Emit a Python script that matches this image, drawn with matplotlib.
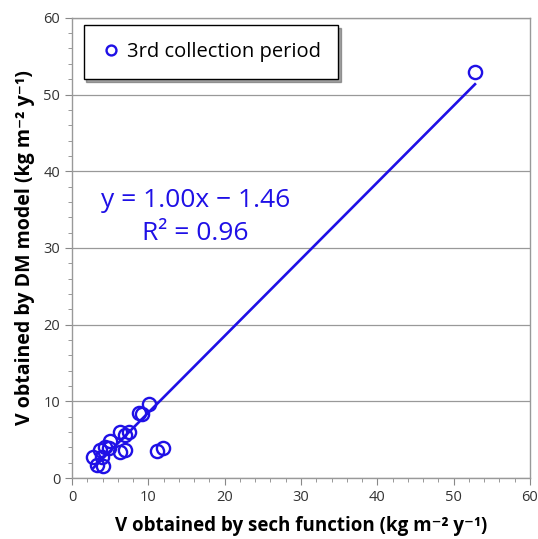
import matplotlib
matplotlib.use("Agg")
import matplotlib.pyplot as plt
import numpy as np
from matplotlib.ticker import MultipleLocator

# V values from the sech function (x) and the DM model (y), kg m^-2 y^-1
sech_v = [10.1, 8.8, 9.2, 6.3, 7.4, 6.9, 5.0, 4.3, 3.7, 4.8, 6.3, 6.9,
          2.8, 3.9, 3.2, 4.1, 11.1, 11.9, 52.8]
dm_v = [9.6, 8.5, 8.4, 6.0, 6.0, 5.6, 4.9, 4.1, 3.6, 3.9, 3.4, 3.6,
        2.7, 2.7, 1.7, 1.6, 3.5, 3.9, 52.9]
slope = 1.00
intercept = -1.46
r2 = 0.96
series_name = "3rd collection period"

blue = "#1f10e6"
plt.rcParams["font.family"] = ["Open Sans", "DejaVu Sans"]

fig = plt.figure(figsize=(5.38, 5.39), dpi=100)
ax = fig.add_axes([0.134, 0.113, 0.851, 0.854])

ax.plot(sech_v, dm_v, "o", mfc="none", mec=blue, mew=1.7, ms=9.5,
        label=series_name, zorder=3)
xl = np.array([min(sech_v), max(sech_v)])
ax.plot(xl, slope * xl + intercept, color=blue, lw=1.9, zorder=2)

ax.set_xlim(0, 60)
ax.set_ylim(0, 60)
ax.xaxis.set_major_locator(MultipleLocator(10))
ax.yaxis.set_major_locator(MultipleLocator(10))
ax.xaxis.set_minor_locator(MultipleLocator(2))
ax.yaxis.set_minor_locator(MultipleLocator(2))
ax.tick_params(which="both", direction="out", color="#888888", labelsize=10.5,
               labelcolor="#333333")
ax.tick_params(which="major", length=5)
ax.tick_params(which="minor", length=3)
ax.grid(axis="y", which="major", color="#999999", lw=0.9)
for s in ax.spines.values():
    s.set_color("#999999")
    s.set_linewidth(1.0)

ax.set_xlabel("V obtained by sech function (kg m\u207b\u00b2 y\u207b\u00b9)",
              fontsize=13.5, fontweight="bold", labelpad=8)
ax.set_ylabel("V obtained by DM model (kg m\u207b\u00b2 y\u207b\u00b9)",
              fontsize=14, fontweight="bold", labelpad=6)

ax.text(3.8, 36.2, f"y = {slope:.2f}x \u2212 {abs(intercept):.2f}",
        color=blue, fontsize=19, va="center", ha="left")
ax.text(9.1, 31.9, f"R\u00b2 = {r2:.2f}", color=blue, fontsize=19,
        va="center", ha="left")

leg = ax.legend(loc="upper left", bbox_to_anchor=(0.012, 0.997), fontsize=14.5,
                frameon=True, fancybox=False, shadow=True, handletextpad=0.3,
                borderpad=0.85, borderaxespad=0.3, handlelength=1.0,
                markerscale=0.75)
leg.get_frame().set_edgecolor("black")
leg.get_frame().set_linewidth(1.0)

fig.savefig("out.png", dpi=100)
